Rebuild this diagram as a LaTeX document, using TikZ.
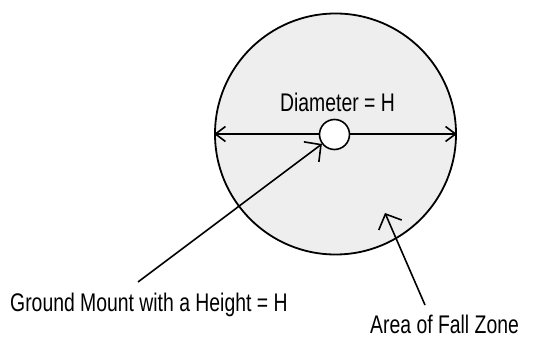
\documentclass[tikz,border=0pt]{standalone}
\usepackage{fontspec}
\setmainfont[FakeStretch=0.76]{Liberation Sans}
\usepackage{xcolor}
\usepackage{tikz}
\usetikzlibrary{arrows.meta,positioning,calc}
\definecolor{cInk}{HTML}{000000}
\definecolor{cZone}{HTML}{EEEEEE}
\tikzset{
  zone/.style={circle,draw=cInk,fill=cZone,line width=1.8pt,minimum size=241pt,inner sep=0pt},
  pole/.style={circle,draw=cInk,fill=white,line width=1.6pt,minimum size=30pt,inner sep=0pt},
  darr/.style={{Straight Barb[length=10pt,width=15pt]}-{Straight Barb[length=10pt,width=15pt]},line width=1.6pt,color=cInk},
  lead/.style={-{Straight Barb[length=12pt,width=25pt]},line width=1.6pt,color=cInk},
  lbl/.style={font=\fontsize{25.5}{30}\selectfont,text=cInk,inner sep=0pt},
}
\begin{document}
\begin{tikzpicture}[x=1pt,y=-1pt]
    \useasboundingbox (0,0) rectangle (552,339);
    % fall zone and mount
    \node[zone] (zone) at (335.5,134) {};
    \draw[darr] (zone.west) -- (zone.east);
    \node[pole] (mount) at (334.5,134.5) {};
    \node[lbl,anchor=base] (diam) at (337.5,112) {Diameter = H};
    % leaders
    \node[lbl,anchor=base west] (gm) at (10,311.5) {Ground Mount with a Height = H};
    \node[lbl,anchor=base west] (fz) at (370,333.5) {Area of Fall Zone};
    \coordinate (gmEnd) at (138,282);
    \coordinate (fzEnd) at (425,305);
    \coordinate (fzTip) at (385,213);
    \draw[lead] (gmEnd) -- (mount);
    \draw[lead] (fzEnd) -- (fzTip);
  \end{tikzpicture}
\end{document}
